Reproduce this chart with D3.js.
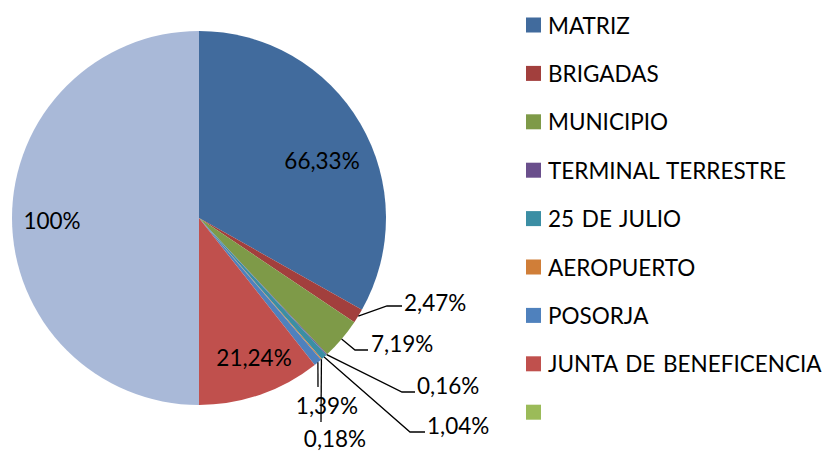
<!DOCTYPE html>
<html>
<head>
<meta charset="utf-8">
<script src="https://cdn.jsdelivr.net/npm/d3@7/dist/d3.min.js"></script>
<style>
  body { margin: 0; background: #fff; }
  text { font-family: Lato, "Noto Sans", sans-serif; fill: #000; word-spacing: 2px; }
</style>
</head>
<body>
<svg id="chart"></svg>
<script>
// data
const categories = ['MATRIZ', 'BRIGADAS', 'MUNICIPIO', 'TERMINAL TERRESTRE', '25 DE JULIO',
  'AEROPUERTO', 'POSORJA', 'JUNTA DE BENEFICENCIA', ''];
const values = [66.33, 2.47, 7.19, 0.16, 1.04, 0.18, 1.39, 21.24, 100];
const labels = ['66,33%', '2,47%', '7,19%', '0,16%', '1,04%', '0,18%', '1,39%', '21,24%', '100%'];
const sliceColors = ['#416b9d', '#a23f3d', '#7e9a48', '#6a4f8c', '#3b8ea4', '#d07e38', '#4f81bd', '#c0504d', '#a9b9d8'];
const legendColors = ['#416b9d', '#a23f3d', '#7e9a48', '#6a4f8c', '#3b8ea4', '#d07e38', '#4f81bd', '#c0504d', '#9bbb59'];

// set up constants
const width = 823;
const height = 451;
const cx = 199, cy = 218, radius = 187;
const fontSize = 22.5;

const svg = d3.select('#chart')
  .attr('width', width)
  .attr('height', height);

const data = categories.map((c, i) => ({ name: c, value: values[i], label: labels[i] }));

const pie = d3.pie().sort(null).value(d => d.value);
const arcs = pie(data);
const arc = d3.arc().innerRadius(0).outerRadius(radius);

const g = svg.append('g').attr('transform', `translate(${cx}, ${cy})`);

g.selectAll('path')
  .data(arcs)
  .enter()
  .append('path')
  .attr('d', arc)
  .attr('fill', (d, i) => sliceColors[i]);

// labels inside the big slices (position relative to the pie centre)
const inside = [
  { i: 0, pos: [123, -58] },
  { i: 7, pos: [55, 139] },
  { i: 8, pos: [-147, 2] }
];
inside.forEach(o => {
  g.append('text')
    .attr('x', o.pos[0])
    .attr('y', o.pos[1])
    .attr('text-anchor', 'middle')
    .attr('dominant-baseline', 'central')
    .attr('font-size', fontSize)
    .text(arcs[o.i].data.label);
});

// outside labels with leader lines (elbow position, end x, text anchor point)
const outside = [
  { i: 1, elbow: [188, 88], end: [203, 88], tx: 205, ty: 84, anchor: 'start' },
  { i: 2, elbow: [156, 132], end: [169, 132], tx: 172, ty: 125, anchor: 'start' },
  { i: 3, elbow: [203, 174], end: [216, 174], tx: 218, ty: 167, anchor: 'start' },
  { i: 4, elbow: [211, 214], end: [226, 214], tx: 228, ty: 207, anchor: 'start' },
  { i: 5, elbow: [122, 204], end: null, tx: 136, ty: 220, anchor: 'middle' },
  { i: 6, elbow: [119, 169], end: null, tx: 128, ty: 187, anchor: 'middle' }
];

outside.forEach(o => {
  const a = arcs[o.i];
  const mid = (a.startAngle + a.endAngle) / 2;
  const sx = Math.sin(mid) * radius, sy = -Math.cos(mid) * radius;
  const pts = [[sx, sy], o.elbow];
  if (o.end) pts.push(o.end);
  g.append('path')
    .attr('d', d3.line()(pts))
    .attr('fill', 'none')
    .attr('stroke', '#000')
    .attr('stroke-width', 1.3);
  g.append('text')
    .attr('x', o.tx)
    .attr('y', o.ty)
    .attr('text-anchor', o.anchor)
    .attr('dominant-baseline', 'central')
    .attr('font-size', fontSize)
    .text(a.data.label);
});

// legend
const legend = svg.append('g').attr('transform', 'translate(526, 25)');
const rowStep = 48.4;
const rows = legend.selectAll('g')
  .data(categories)
  .enter()
  .append('g')
  .attr('transform', (d, i) => `translate(0, ${i * rowStep})`);

rows.append('rect')
  .attr('x', 0)
  .attr('y', -7.5)
  .attr('width', 15)
  .attr('height', 15)
  .attr('fill', (d, i) => legendColors[i]);

rows.append('text')
  .attr('x', 22)
  .attr('y', 0)
  .attr('dominant-baseline', 'central')
  .attr('font-size', fontSize)
  .text(d => d);
</script>
</body>
</html>
